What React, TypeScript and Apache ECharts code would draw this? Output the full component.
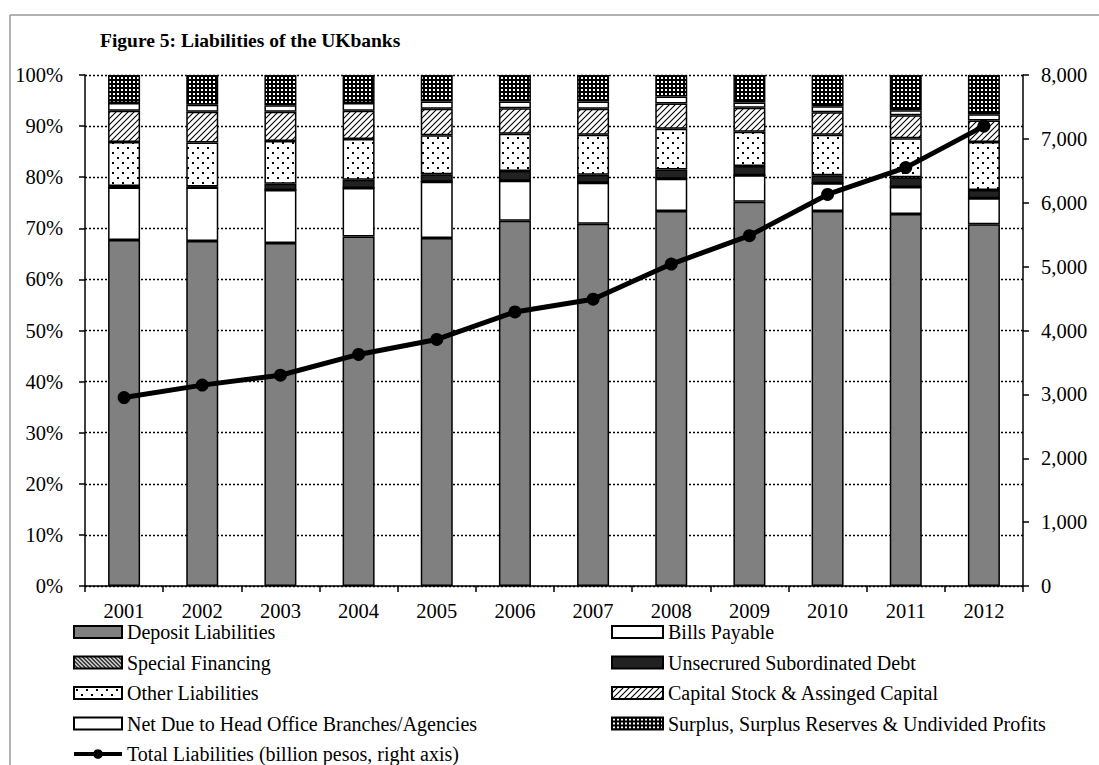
import React, { useEffect, useRef } from "react";
import * as echarts from "echarts";

const years = ["2001", "2002", "2003", "2004", "2005", "2006", "2007", "2008", "2009", "2010", "2011", "2012"];
const deposit = [67.7, 67.5, 67.1, 68.4, 68.1, 71.5, 70.9, 73.4, 75.2, 73.4, 72.8, 70.8];
const billsPayable = [10.3, 10.5, 10.4, 9.5, 11.0, 7.8, 8.0, 6.3, 5.2, 5.4, 5.3, 5.1];
const specialFinancing = [0, 0, 0, 0, 0, 0, 0, 0, 0, 0, 0, 0];
const unsecuredDebt = [0.3, 0.2, 1.2, 1.6, 1.5, 1.9, 1.6, 1.8, 1.8, 1.6, 1.9, 1.6];
const otherLiabilities = [8.6, 8.6, 8.4, 8.0, 7.6, 7.3, 7.8, 8.0, 6.7, 7.9, 7.6, 9.4];
const capitalStock = [6.1, 6.0, 5.7, 5.5, 5.2, 5.0, 5.1, 4.9, 4.7, 4.4, 4.5, 4.2];
const netDue = [1.5, 1.4, 1.3, 1.5, 1.4, 1.3, 1.4, 1.4, 1.0, 1.2, 1.0, 1.2];
const surplus = [5.5, 5.8, 5.9, 5.5, 5.2, 5.2, 5.2, 4.2, 5.4, 6.1, 6.9, 7.7];
const totalLiabilities = [2950, 3145, 3300, 3625, 3860, 4290, 4490, 5040, 5485, 6130, 6550, 7200];
const leftTicks = [0, 100, 10];
const rightTicks = [0, 8000, 1000];

const FONT = "'Liberation Serif', 'Times New Roman', serif";

function makePattern(kind: string): HTMLCanvasElement {
  const c = document.createElement("canvas");
  const ctx = c.getContext("2d") as CanvasRenderingContext2D;
  if (kind === "surplus") {
    c.width = 4; c.height = 4;
    ctx.fillStyle = "#000"; ctx.fillRect(0, 0, 4, 4);
    ctx.fillStyle = "#fff"; ctx.fillRect(1, 1, 2, 2);
  } else if (kind === "other") {
    c.width = 10; c.height = 10;
    ctx.fillStyle = "#fff"; ctx.fillRect(0, 0, 10, 10);
    ctx.fillStyle = "#000"; ctx.fillRect(2, 2, 2, 2); ctx.fillRect(7, 7, 2, 2);
  } else if (kind === "capital") {
    c.width = 6; c.height = 6;
    ctx.fillStyle = "#fff"; ctx.fillRect(0, 0, 6, 6);
    ctx.strokeStyle = "#000"; ctx.lineWidth = 1.1;
    ctx.beginPath();
    ctx.moveTo(0, 6); ctx.lineTo(6, 0);
    ctx.moveTo(-1, 1); ctx.lineTo(1, -1);
    ctx.moveTo(5, 7); ctx.lineTo(7, 5);
    ctx.stroke();
  } else {
    c.width = 4; c.height = 4;
    ctx.fillStyle = "#fff"; ctx.fillRect(0, 0, 4, 4);
    ctx.strokeStyle = "#000"; ctx.lineWidth = 1.4;
    ctx.beginPath();
    ctx.moveTo(0, 0); ctx.lineTo(4, 4);
    ctx.moveTo(-1, 3); ctx.lineTo(1, 5);
    ctx.moveTo(3, -1); ctx.lineTo(5, 1);
    ctx.stroke();
  }
  return c;
}

export default function App() {
  const ref = useRef<HTMLDivElement>(null);
  useEffect(() => {
    document.body.style.margin = "0";
    const chart = echarts.init(ref.current as HTMLDivElement, null, { renderer: "svg" });
    const pat = (k: string) => ({ image: makePattern(k), repeat: "repeat" as const });
    const barBase = (name: string, data: number[], color: any) => ({
      name,
      type: "bar",
      stack: "s",
      data,
      barWidth: 32,
      itemStyle: { color, borderColor: "#000", borderWidth: 1.5 },
    });
    const nameTotal = "Total Liabilities (billion pesos, right axis)";
    const legendText = { fontFamily: FONT, fontSize: 20, lineHeight: 20, color: "#000" };
    chart.setOption({
      animation: false,
      textStyle: { fontFamily: FONT, color: "#000" },
      title: {
        text: "Figure 5: Liabilities of the UKbanks",
        left: 100,
        top: 30,
        padding: 0,
        textStyle: { fontFamily: FONT, fontSize: 19.5, fontWeight: "bold", color: "#000" },
      },
      graphic: [
        {
          type: "line",
          shape: { x1: 10, y1: 15, x2: 1099, y2: 15 },
          style: { stroke: "#999", lineWidth: 1.5 },
          silent: true,
        },
        {
          type: "line",
          shape: { x1: 10, y1: 15, x2: 10, y2: 765 },
          style: { stroke: "#999", lineWidth: 1.5 },
          silent: true,
        },
      ],
      legend: [
        {
          orient: "vertical",
          left: 72,
          top: 622,
          height: 170,
          padding: 0,
          itemWidth: 48,
          itemHeight: 12,
          itemGap: 10.5,
          textStyle: legendText,
          lineStyle: { width: 4 },
          data: [
            { name: "Deposit Liabilities", icon: "rect" },
            { name: "Special Financing", icon: "rect" },
            { name: "Other Liabilities", icon: "rect" },
            { name: "Net Due to Head Office Branches/Agencies", icon: "rect" },
            { name: nameTotal },
          ],
        },
        {
          orient: "vertical",
          left: 611,
          top: 622,
          height: 170,
          padding: 0,
          itemWidth: 51,
          itemHeight: 12,
          itemGap: 10.5,
          textStyle: legendText,
          data: [
            { name: "Bills Payable", icon: "rect" },
            { name: "Unsecrured Subordinated Debt", icon: "rect" },
            { name: "Capital Stock & Assinged Capital", icon: "rect" },
            { name: "Surplus, Surplus Reserves & Undivided Profits", icon: "rect" },
          ],
        },
      ],
      grid: { left: 85, right: 76, top: 75, bottom: 179, containLabel: false },
      xAxis: {
        type: "category",
        data: years,
        axisLine: { lineStyle: { color: "#000", width: 1.5 } },
        axisTick: { show: true, length: 6, lineStyle: { color: "#000", width: 1.5 } },
        axisLabel: { fontFamily: FONT, fontSize: 20.5, lineHeight: 20, color: "#000", margin: 15 },
      },
      yAxis: [
        {
          type: "value",
          min: leftTicks[0],
          max: leftTicks[1],
          interval: leftTicks[2],
          axisLine: { show: true, lineStyle: { color: "#000", width: 1.5 } },
          axisTick: { show: true, length: 6, lineStyle: { color: "#000", width: 1.5 } },
          axisLabel: { fontFamily: FONT, fontSize: 20.5, color: "#000", margin: 22, formatter: "{value}%" },
          splitLine: { show: true, lineStyle: { color: "#000", width: 1.3, type: [2, 2] } },
        },
        {
          type: "value",
          position: "right",
          min: rightTicks[0],
          max: rightTicks[1],
          interval: rightTicks[2],
          axisLine: { show: true, lineStyle: { color: "#000", width: 1.5 } },
          axisTick: { show: true, length: 6, lineStyle: { color: "#000", width: 1.5 } },
          axisLabel: {
            fontFamily: FONT,
            fontSize: 20.5,
            color: "#000",
            margin: 18,
            formatter: (v: number) => v.toLocaleString("en-US"),
          },
          splitLine: { show: false },
        },
      ],
      series: [
        barBase("Deposit Liabilities", deposit, "#808080"),
        barBase("Bills Payable", billsPayable, "#ffffff"),
        barBase("Special Financing", specialFinancing, pat("special")),
        barBase("Unsecrured Subordinated Debt", unsecuredDebt, "#222222"),
        barBase("Other Liabilities", otherLiabilities, pat("other")),
        barBase("Capital Stock & Assinged Capital", capitalStock, pat("capital")),
        barBase("Net Due to Head Office Branches/Agencies", netDue, "#ffffff"),
        barBase("Surplus, Surplus Reserves & Undivided Profits", surplus, pat("surplus")),
        {
          name: nameTotal,
          type: "line",
          yAxisIndex: 1,
          data: totalLiabilities,
          symbol: "circle",
          symbolSize: 13,
          itemStyle: { color: "#000" },
          lineStyle: { color: "#000", width: 5 },
          z: 5,
        },
      ],
    });
    return () => chart.dispose();
  }, []);
  return <div ref={ref} style={{ width: 1099, height: 765 }} />;
}
